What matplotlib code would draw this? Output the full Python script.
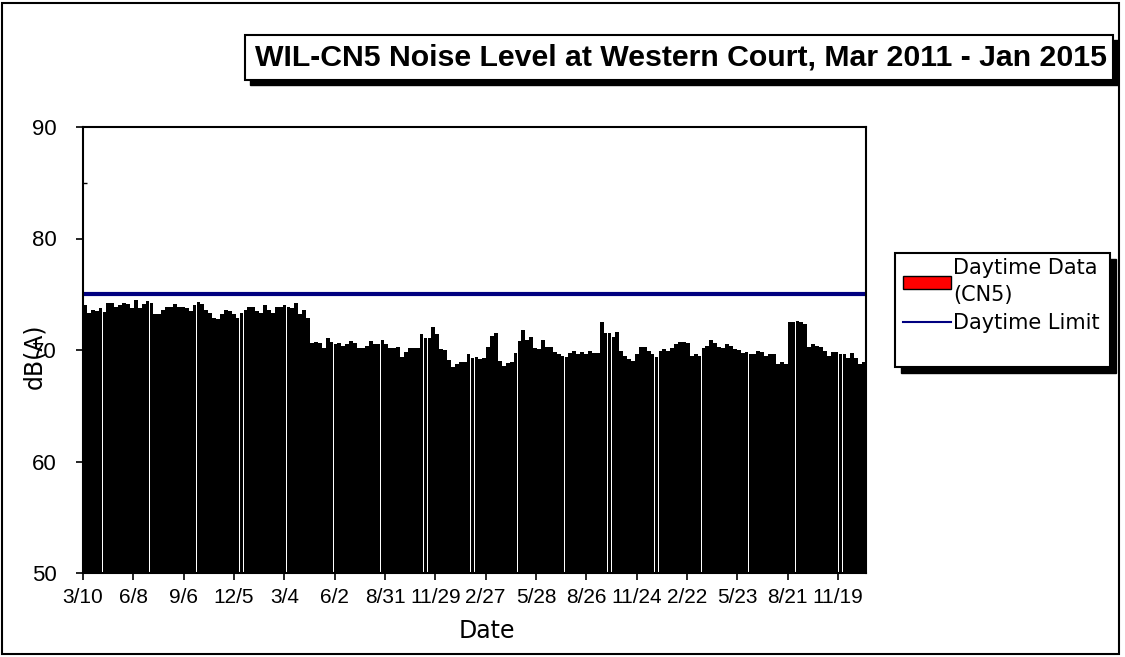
import numpy as np
import pandas as pd
import matplotlib
matplotlib.use('Agg')
import matplotlib.pyplot as plt
import matplotlib.dates as mdates
from matplotlib.patches import Rectangle, Patch
from matplotlib.lines import Line2D

# weekly daytime noise levels dB(A), starting 2011-03-10
levels = [
    74.0, 73.3, 73.6, 73.5, 73.8, 73.4, 74.2, 74.2, 73.9, 74.0, 74.2, 74.1, 73.8, 74.5, 73.8, 74.1, 74.4,
    74.2, 73.2, 73.2, 73.6, 73.9, 73.9, 74.1, 73.9, 73.9, 73.8, 73.5, 74.0, 74.3, 74.1, 73.6, 73.3, 72.9,
    72.8, 73.2, 73.6, 73.5, 73.2, 72.9, 73.3, 73.6, 73.9, 73.9, 73.5, 73.3, 74.0, 73.6, 73.3, 73.9, 73.9,
    74.0, 73.9, 73.8, 74.2, 73.2, 73.6, 72.9, 70.6, 70.7, 70.6, 70.2, 71.1, 70.7, 70.5, 70.6, 70.4,
    70.5, 70.8, 70.6, 70.2, 70.2, 70.4, 70.8, 70.5, 70.5, 70.9, 70.5, 70.2, 70.2, 70.3, 69.4, 69.8, 70.2,
    70.2, 70.2, 71.4, 71.1, 71.1, 72.1, 71.4, 70.1, 70.0, 69.1, 68.5, 68.7, 68.9, 68.9, 69.6, 69.3,
    69.4, 69.2, 69.3, 70.3, 71.3, 71.5, 69.0, 68.6, 68.8, 68.9, 69.7, 70.8, 71.8, 70.9, 71.2, 70.2, 70.1,
    70.9, 70.3, 70.3, 69.8, 69.6, 69.5, 69.4, 69.7, 69.9, 69.6, 69.8, 69.6, 69.9, 69.7, 69.7, 72.5, 71.5,
    71.5, 71.2, 71.6, 69.9, 69.5, 69.2, 69.0, 69.6, 70.3, 70.3, 69.9, 69.6, 69.4, 69.9, 70.1, 69.9, 70.2,
    70.5, 70.7, 70.7, 70.6, 69.5, 69.6, 69.5, 70.2, 70.4, 70.9, 70.6, 70.3, 70.2, 70.5, 70.4, 70.1,
    70.0, 69.7, 69.8, 69.6, 69.6, 69.9, 69.8, 69.5, 69.6, 69.6, 68.7, 68.9, 68.7, 72.5, 72.5, 72.6, 72.5,
    72.3, 70.3, 70.5, 70.4, 70.3, 69.9, 69.5, 69.8, 69.8, 69.6, 69.6, 69.3, 69.7, 69.3, 68.7, 68.9,
]
week_start = pd.date_range('2011-03-10', periods=len(levels), freq='7D')
daytime_limit = 75

tick_dates = ['2011-03-10', '2011-06-08', '2011-09-06', '2011-12-05', '2012-03-04', '2012-06-02',
              '2012-08-31', '2012-11-29', '2013-02-27', '2013-05-28', '2013-08-26', '2013-11-24',
              '2014-02-22', '2014-05-23', '2014-08-21', '2014-11-19']
tick_labels = ['3/10', '6/8', '9/6', '12/5', '3/4', '6/2', '8/31', '11/29', '2/27', '5/28',
               '8/26', '11/24', '2/22', '5/23', '8/21', '11/19']
y_ticks = [50, 60, 70, 80, 90]

W, H = 1125, 657
fig = plt.figure(figsize=(W / 100, H / 100), dpi=100)
ax = fig.add_axes([83 / W, 1 - 573 / H, 783 / W, 446 / H])

x = mdates.date2num(week_start)
ax.bar(x, levels, width=6.8, align='edge', color='black', linewidth=0)
ax.axhline(daytime_limit, color='#000080', lw=3)

ax.set_xlim(mdates.date2num(pd.Timestamp('2011-03-10')), mdates.date2num(pd.Timestamp('2015-01-08')))
ax.set_ylim(50, 90)
ax.set_yticks(y_ticks, labels=[str(v) for v in y_ticks], fontfamily='Liberation Sans', fontsize=16)
ax.set_yticks([55, 65, 75, 85], minor=True)
ax.set_xticks(mdates.date2num(pd.to_datetime(tick_dates)), labels=tick_labels,
              fontfamily='Liberation Sans', fontsize=15)
ax.tick_params(axis='both', which='major', length=5, width=1.2)
ax.tick_params(axis='x', which='major', pad=6)
ax.tick_params(axis='y', which='major', pad=14)
ax.tick_params(axis='y', which='minor', direction='in', length=3, width=1)
for s in ax.spines.values():
    s.set_linewidth(1.5)

fig.text(34 / W, 1 - 356 / H, 'dB(A)', rotation=90, ha='center', va='center', fontsize=17)
fig.text(487 / W, 1 - 631 / H, 'Date', ha='center', va='center', fontsize=17)

# title box with shadow
tb = (245, 35, 1113, 80)
fig.patches.append(Rectangle(((tb[0] + 5) / W, 1 - (tb[3] + 5) / H), (tb[2] - tb[0]) / W, (tb[3] - tb[1]) / H,
                             transform=fig.transFigure, facecolor='black', edgecolor='black'))
fig.patches.append(Rectangle((tb[0] / W, 1 - tb[3] / H), (tb[2] - tb[0]) / W, (tb[3] - tb[1]) / H,
                             transform=fig.transFigure, facecolor='white', edgecolor='black', lw=1.5))
fig.text((tb[0] + tb[2]) / 2 / W + 0.002, 1 - (tb[1] + tb[3]) / 2 / H,
         'WIL-CN5 Noise Level at Western Court, Mar 2011 - Jan 2015',
         ha='center', va='center', fontsize=21.8, fontweight='bold', family='Liberation Sans')

# legend box with shadow
lb = (895, 253, 1110, 367)
fig.patches.append(Rectangle(((lb[0] + 6) / W, 1 - (lb[3] + 6) / H), (lb[2] - lb[0]) / W, (lb[3] - lb[1]) / H,
                             transform=fig.transFigure, facecolor='black', edgecolor='black'))
fig.patches.append(Rectangle((lb[0] / W, 1 - lb[3] / H), (lb[2] - lb[0]) / W, (lb[3] - lb[1]) / H,
                             transform=fig.transFigure, facecolor='white', edgecolor='black', lw=1.5))
handles = [Patch(facecolor='red', edgecolor='black', lw=1),
           Line2D([], [], color='#000080', lw=1.5)]
leg = fig.legend(handles, ['Daytime Data\n(CN5)', 'Daytime Limit'], loc='upper left',
                 bbox_to_anchor=(899 / W, 1 - 254 / H), frameon=False, fontsize=15,
                 handlelength=2.3, handleheight=0.6, handletextpad=0.1, labelspacing=0.35,
                 borderaxespad=0, borderpad=0.2)
for t in leg.get_texts():
    t.set_linespacing(1.45)

# outer frame
fig.patches.append(Rectangle((2 / W, 3 / H), 1117 / W, 651 / H, transform=fig.transFigure,
                             fill=False, edgecolor='black', lw=1.5))

fig.savefig('out.png', dpi=100)
